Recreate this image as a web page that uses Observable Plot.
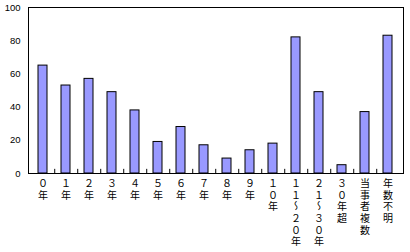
<!DOCTYPE html>
<html><head><meta charset="utf-8">
<script src="https://cdn.jsdelivr.net/npm/d3@7"></script>
<script src="https://cdn.jsdelivr.net/npm/@observablehq/plot@0.6"></script>
<style>body{margin:0;background:white;}</style>
</head><body><div id="chart"></div>
<script>
const categories = ["０年","１年","２年","３年","４年","５年","６年","７年","８年","９年","１０年","１１～２０年","２１～３０年","３０年超","当事者複数","年数不明"];
const values = [65,53,57,49,38,19,28,17,9,14,18,82,49,5,37,83];
const yTicks = [0,20,40,60,80,100];

const data = categories.map((c,i)=>({cat:c, value:values[i]}));
const W = 410, ML = 28, MR = 7;
const step = (W - ML - MR) / categories.length;

const chart = Plot.plot({
  width: W, height: 252,
  marginLeft: ML, marginRight: MR, marginTop: 7, marginBottom: 79,
  style: {fontFamily: "'Noto Sans CJK JP', sans-serif", fontSize: "10px", background: "white", color: "black", overflow: "visible"},
  x: {domain: categories, paddingInner: 0.6, paddingOuter: 0.3, label: null},
  y: {domain: [0,100], label: null},
  marks: [
    Plot.barY(data, {x: "cat", y: "value", fill: "#9999ff", stroke: "black", strokeWidth: 1}),
    Plot.ruleX(categories.slice(0,-1), {x: d => d, y1: 0, y2: 2.5, dx: step/2, stroke: "black"}),
    Plot.frame({stroke: "black", strokeWidth: 1}),
    Plot.axisY({ticks: yTicks, tickSize: 0, tickPadding: 8, fontFamily: "'Liberation Sans', Arial, sans-serif", fontSize: 9.5}),
    Plot.axisX({tickSize: 0, tickPadding: 5})
  ]
});
document.getElementById("chart").appendChild(chart);
d3.select(chart).selectAll("g[aria-label='x-axis tick label'] text")
  .attr("writing-mode", "vertical-rl")
  .attr("text-anchor", "start")
  .attr("y", null).attr("dy", null)
  .style("text-orientation", "upright")
  .style("letter-spacing", "1.6px");
</script></body></html>
